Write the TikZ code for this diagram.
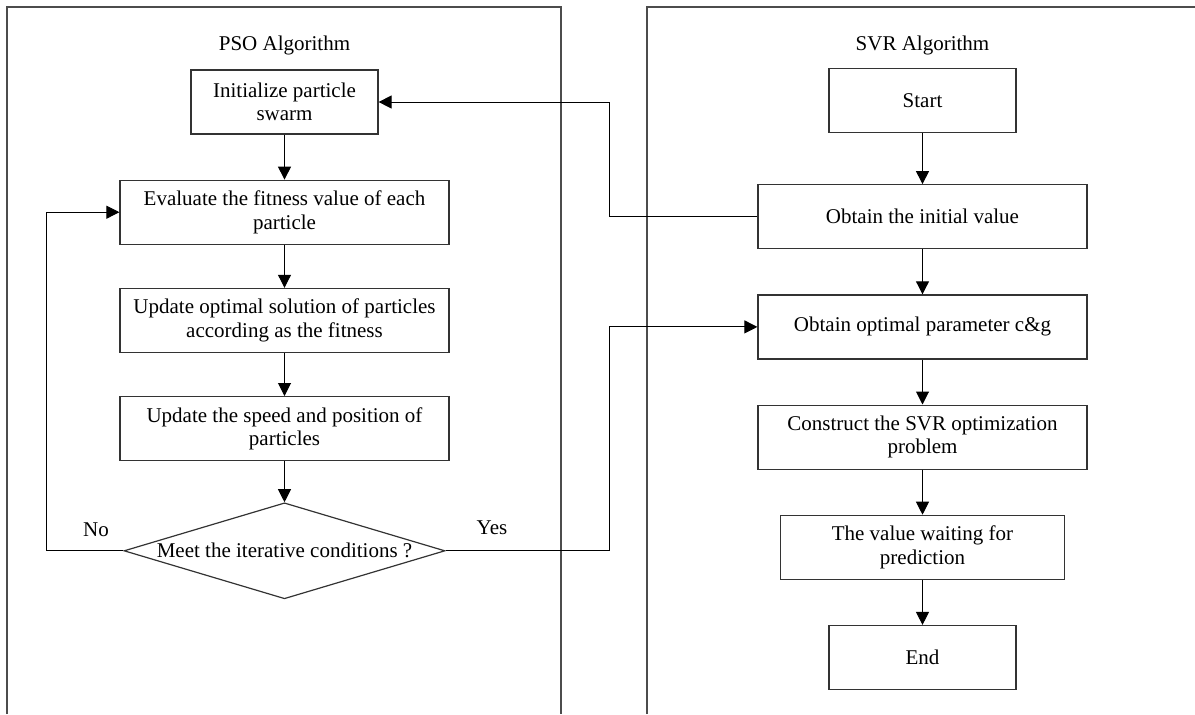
\documentclass[tikz,border=0pt]{standalone}
\usepackage{fontspec}
\setmainfont{Liberation Serif}
\usetikzlibrary{positioning}
\usetikzlibrary{shapes.geometric}
\usetikzlibrary{arrows.meta}
\tikzset{%
  flowarrow/.style = {-{Triangle[length=6.5pt,width=6.5pt]},line width=0.5pt},
  frameline/.style = {draw=black!70,line width=0.6pt},
  b/.style = {rectangle,draw=black!80,line width=0.6pt,align=center,
        minimum width=93.5pt,minimum height=32pt,inner sep=1pt},
  bw/.style = {b,minimum width=164.5pt},
  d/.style = {diamond,draw=black!80,line width=0.6pt,aspect=3.34,
        minimum width=160.5pt,minimum height=48pt,inner sep=0pt}
}

\begin{document}
\begin{tikzpicture}[x=0.5pt,y=-0.5pt,node distance=22.5pt]
\fontsize{10.5}{11.7}\selectfont
   \useasboundingbox (0,0) rectangle (1195,714);
   % the two panels, open at the bottom
   \draw[frameline] (7,714) -- (7,7) -- (561,7) -- (561,714);
   \draw[frameline] (647,714) -- (647,7) -- (1195,7);

   % PSO side
   \node (pso) at (284.5,45) {PSO Algorithm};
   \node[b] (init) at (284.5,102) {Initialize particle\\swarm};
   \node[bw] (eval) [below=of init] {Evaluate the fitness value of each\\particle};
   \node[bw] (upopt) [below=21.5pt of eval] {Update optimal solution of particles\\according as the fitness};
   \node[bw] (upspeed) [below=21.5pt of upopt] {Update the speed and position of\\particles};
   \node[d] (cond) [below=20.5pt of upspeed] {Meet the iterative conditions ?};
   \node (no) at (96,530) {No};
   \node (yes) at (492,528) {Yes};

   % SVR side
   \node (svr) at (922.5,45) {SVR Algorithm};
   \node[b] (start) at (922.5,100.5) {Start};
   \node[bw] (initval) [below=25.5pt of start] {Obtain the initial value};
   \node[bw] (optpar) [below=of initval] {Obtain optimal parameter c\&g};
   \node[bw] (constr) [below=of optpar] {Construct the SVR optimization\\problem};
   \node[b,minimum width=142pt] (waiting) [below=of constr] {The value waiting for\\prediction};
   \node[b] (end) [below=of waiting] {End};

   \draw[flowarrow] (init) -- (eval);
   \draw[flowarrow] (eval) -- (upopt);
   \draw[flowarrow] (upopt) -- (upspeed);
   \draw[flowarrow] (upspeed) -- (cond);
   \draw[flowarrow] (cond.west) -- ++(-77,0) |- (eval.west);
   \draw[flowarrow] (cond.east) -- ++(164,0) |- (optpar.west);
   \draw[flowarrow] (start) -- (initval);
   \draw[flowarrow] (initval.west) -- ++(-148,0) |- (init.east);
   \draw[flowarrow] (initval) -- (optpar);
   \draw[flowarrow] (optpar) -- (constr);
   \draw[flowarrow] (constr) -- (waiting);
   \draw[flowarrow] (waiting) -- (end);
\end{tikzpicture}
\end{document}
